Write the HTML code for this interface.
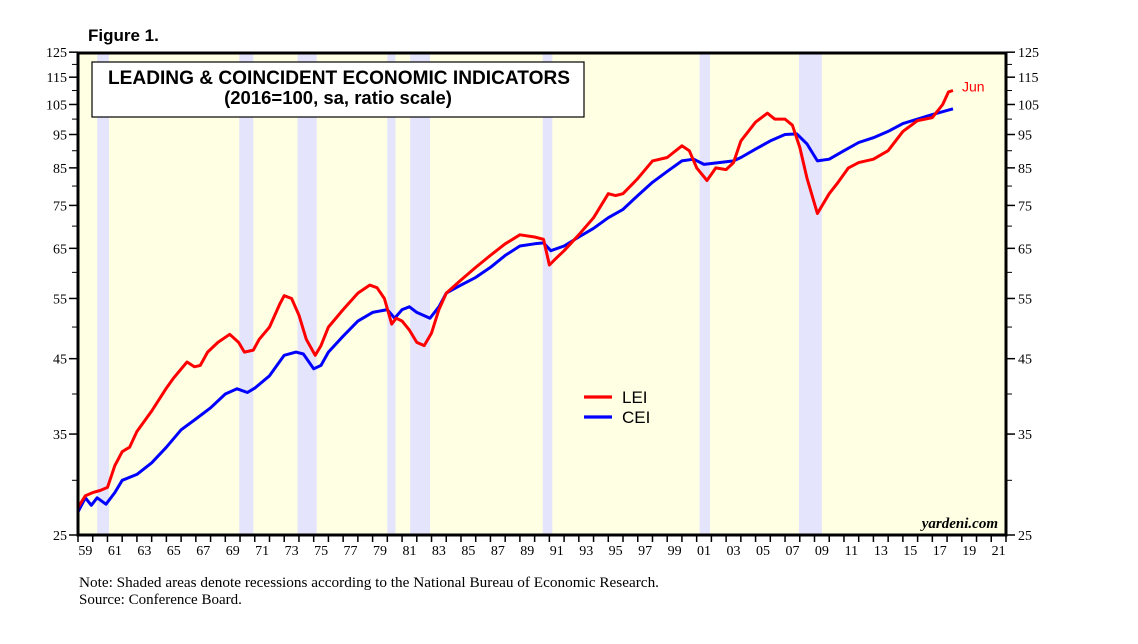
<!DOCTYPE html>
<html><head><meta charset="utf-8">
<style>
body{margin:0;background:#fff;width:1138px;height:644px;overflow:hidden;font-family:"Liberation Sans",sans-serif}
svg{position:absolute;left:0;top:0}
</style></head>
<body>
<svg id="chart" width="1138" height="644" xmlns="http://www.w3.org/2000/svg"></svg>
<script>
const recessions=[[1960.3,1961.1],[1969.95,1970.9],[1973.9,1975.2],[1980.0,1980.55],[1981.55,1982.9],[1990.55,1991.2],[2001.2,2001.9],[2007.95,2009.5]];
const yTicks=[125,115,105,95,85,75,65,55,45,35,25];
const yMinor=[120,110,100,90,80,70,60,50,40,30];
const leiYears=[1959,1959.5,1960,1960.5,1961,1961.5,1962,1962.5,1963,1964,1965,1965.5,1966.4,1966.9,1967.3,1967.8,1968.5,1969.3,1969.9,1970.3,1970.9,1971.3,1972,1972.7,1973.0,1973.5,1974,1974.5,1975.1,1975.5,1976,1977,1978,1978.8,1979.3,1979.8,1980.3,1980.6,1981,1981.5,1982,1982.5,1983,1983.5,1984,1985,1986,1987,1988,1989,1990,1990.6,1991,1991.5,1992,1993,1994,1995,1995.5,1996,1997,1998,1999,2000,2000.5,2001,2001.7,2002.3,2003,2003.5,2004,2005,2005.8,2006.3,2007,2007.5,2008,2008.5,2009.2,2010,2010.6,2011.3,2012,2013,2014,2015,2016,2017,2017.7,2018.1,2018.4];
const leiValues=[27.4,28.5,28.8,29,29.3,31.5,33,33.5,35.3,37.8,40.8,42.2,44.5,43.8,44,46,47.5,48.8,47.5,46,46.3,48,50,54,55.5,55,52,48,45.5,47,50,53,56,57.5,57,55,50.5,51.5,51,49.5,47.5,47,49,53,56,58.5,61,63.5,66,68,67.5,67,61.5,63,64.5,68,72,78,77.5,78,82,87,88,91.5,90,85,81.5,85,84.5,86.5,93,99,102,100,100,98,91,82,73,78,81,85,86.5,87.5,90,96,99.5,100.5,105,109.5,110];
const ceiYears=[1959,1959.5,1959.9,1960.3,1960.9,1961.5,1962,1963,1964,1965,1966,1967,1968,1969,1969.8,1970.5,1971,1972,1973,1973.8,1974.3,1975,1975.5,1976,1977,1978,1979,1980,1980.5,1981,1981.5,1982,1982.9,1983.5,1984,1985,1986,1987,1988,1989,1990,1990.6,1991.1,1992,1993,1994,1995,1996,1997,1998,1999,2000,2000.8,2001.5,2002.5,2003.5,2004,2005,2006,2007,2007.8,2008.5,2009.2,2010,2011,2012,2013,2014,2015,2016,2017,2018.4];
const ceiValues=[27,28.3,27.6,28.3,27.7,28.8,30,30.6,31.8,33.5,35.5,36.8,38.2,40,40.7,40.2,40.8,42.5,45.5,46,45.7,43.5,44,46,48.5,51,52.5,53,51.5,53,53.5,52.5,51.5,53.5,56,57.5,59,61,63.5,65.5,66,66.2,64.5,65.5,67.5,69.5,72,74,77.5,81,84,87,87.5,86,86.5,87,88,90.5,93,95,95.2,92,87,87.5,90,92.5,94,96,98.5,100,101.5,103.5];

const svg=document.getElementById('chart');
const NS='http://www.w3.org/2000/svg';
const L=78,R=1006,T=53,B=535;
const x=t=>L+(t-1959)*14.73;
const y=v=>B-300*Math.log(v/25);
function mk(tag,attrs,name,parent){const e=document.createElementNS(NS,tag);for(const k in attrs)e.setAttribute(k,attrs[k]);


(parent||svg).appendChild(e);return e;}
function txt(s,attrs,name){const e=mk('text',attrs,name);e.textContent=s;return e;}

txt('Figure 1.',{x:88,y:41,'font-size':17,'font-weight':'bold','font-family':'Liberation Sans'},'figure-label');
mk('rect',{x:L,y:T,width:R-L,height:B-T,fill:'#ffffe4'},'plot-background');
recessions.forEach(r=>{mk('rect',{x:x(r[0]),y:T,width:x(r[1])-x(r[0]),height:B-T,fill:'#e4e4fc'},'recession-band');});

yTicks.forEach(v=>{const yy=y(v);
mk('line',{x1:L-9,x2:L,y1:yy,y2:yy,stroke:'#000','stroke-width':1.5},'y-tick-left');
mk('line',{x1:R,x2:R+9,y1:yy,y2:yy,stroke:'#000','stroke-width':1.5},'y-tick-right');
txt(v,{x:L-11,y:yy+5,'text-anchor':'end','font-size':14,'font-family':'Liberation Serif'},'y-tick-label-left');
txt(v,{x:R+12,y:yy+5,'font-size':14,'font-family':'Liberation Serif'},'y-tick-label-right');});
yMinor.forEach(v=>{const yy=y(v);
mk('line',{x1:L-6,x2:L,y1:yy,y2:yy,stroke:'#000','stroke-width':1},'y-minor-tick-left');
mk('line',{x1:R,x2:R+6,y1:yy,y2:yy,stroke:'#000','stroke-width':1},'y-minor-tick-right');});
for(let yr=1959;yr<=2022;yr++){const xx=x(yr);
mk('line',{x1:xx,x2:xx,y1:B,y2:B+7,stroke:'#000','stroke-width':1.5},'x-tick');
if(yr%2==1&&yr<2022)txt(String(yr%100).padStart(2,'0'),{x:xx+7.4,y:B+20,'text-anchor':'middle','font-size':14,'font-family':'Liberation Serif'},'x-tick-label');}

function line(xs,vs,color,name){const d=xs.map((t,i)=>(i?'L':'M')+x(t).toFixed(1)+','+y(vs[i]).toFixed(1)).join('');
mk('path',{d:d,fill:'none',stroke:color,'stroke-width':3,'stroke-linejoin':'round'},name);}
line(ceiYears,ceiValues,'#0000ff','cei-line');
line(leiYears,leiValues,'#ff0000','lei-line');
txt('Jun',{x:x(leiYears[leiYears.length-1])+9,y:y(leiValues[leiValues.length-1])+1,'font-size':14,fill:'#ff0000'},'last-point-label');

mk('rect',{x:L,y:T,width:R-L,height:B-T,fill:'none',stroke:'#000','stroke-width':3},'plot-frame');

mk('rect',{x:92,y:62,width:492,height:55,fill:'#fff',stroke:'#000','stroke-width':1.2},'title-box');
txt('LEADING & COINCIDENT ECONOMIC INDICATORS',{x:339,y:84,'text-anchor':'middle','font-size':19,'font-weight':'bold',textLength:462,lengthAdjust:'spacingAndGlyphs'},'chart-title');
txt('(2016=100, sa, ratio scale)',{x:338,y:104,'text-anchor':'middle','font-size':18.5,'font-weight':'bold'},'chart-subtitle');

mk('line',{x1:584,x2:612,y1:397,y2:397,stroke:'#ff0000','stroke-width':3.2},'legend-lei-swatch');
txt('LEI',{x:622,y:403,'font-size':17},'legend-lei-label');
mk('line',{x1:584,x2:612,y1:417,y2:417,stroke:'#0000ff','stroke-width':3.2},'legend-cei-swatch');
txt('CEI',{x:622,y:423,'font-size':17},'legend-cei-label');

txt('yardeni.com',{x:998,y:528,'text-anchor':'end','font-size':15,'font-style':'italic','font-weight':'bold','font-family':'Liberation Serif'},'watermark');
txt('Note: Shaded areas denote recessions according to the National Bureau of Economic Research.',{x:79,y:587,'font-size':15,'font-family':'Liberation Serif',textLength:580,lengthAdjust:'spacingAndGlyphs'},'note');
txt('Source: Conference Board.',{x:79,y:604,'font-size':15,'font-family':'Liberation Serif'},'source');
</script>
</body></html>
